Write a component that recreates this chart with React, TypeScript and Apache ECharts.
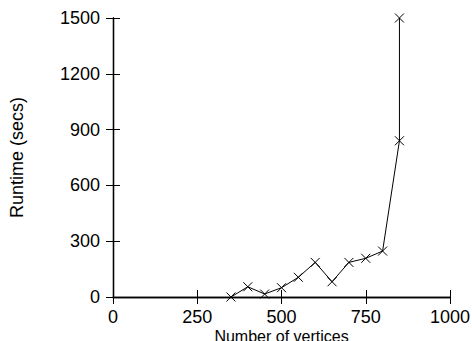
import React, { useEffect, useRef } from "react";
import * as echarts from "echarts";

const vertices = [350, 400, 450, 500, 550, 600, 650, 700, 750, 800, 850, 850];
const runtimes = [0, 55, 16, 50, 106, 186, 82, 186, 208, 247, 840, 1500];
const xTicks = [0, 250, 500, 750, 1000];
const yTicks = [0, 300, 600, 900, 1200, 1500];

const FONT = "Liberation Sans, Arial, Helvetica, sans-serif";

export default function App() {
  const ref = useRef<HTMLDivElement>(null);
  useEffect(() => {
    if (!ref.current) return;
    const chart = echarts.init(ref.current, undefined, { renderer: "svg" });
    const lineStyle = { color: "#000", width: 1.3 };
    const tick = { show: true, inside: true, length: 7, lineStyle: { color: "#000", width: 1 } };
    const xMax = xTicks[xTicks.length - 1];
    const yMax = yTicks[yTicks.length - 1];
    const fmt = (v: number) => String(v);
    chart.setOption({
      animation: false,
      grid: {
        left: 113,
        right: 22,
        top: 18,
        bottom: 44,
        containLabel: false,
        outerBoundsMode: "none",
      },
      xAxis: [
        {
          type: "value",
          min: xTicks[0],
          max: xMax,
          interval: xTicks[1] - xTicks[0],
          position: "bottom",
          name: "Number of vertices",
          nameLocation: "middle",
          nameGap: 31,
          nameMoveOverlap: false,
          nameTextStyle: { color: "#000", fontSize: 16, fontFamily: FONT, verticalAlign: "top" },
          axisLine: { show: true, lineStyle },
          axisTick: tick,
          axisLabel: { color: "#000", fontSize: 18, fontFamily: FONT, margin: 11, formatter: fmt },
          splitLine: { show: false },
        },
        {
          type: "value",
          min: xTicks[0],
          max: xMax,
          interval: xTicks[1] - xTicks[0],
          position: "top",
          axisLine: { show: true, lineStyle },
          axisTick: tick,
          axisLabel: { show: false },
          splitLine: { show: false },
        },
      ],
      yAxis: [
        {
          type: "value",
          min: yTicks[0],
          max: yMax,
          interval: yTicks[1] - yTicks[0],
          position: "left",
          name: "Runtime (secs)",
          nameLocation: "middle",
          nameGap: 87,
          nameMoveOverlap: false,
          nameTextStyle: { color: "#000", fontSize: 18, fontFamily: FONT },
          axisLine: { show: true, lineStyle },
          axisTick: tick,
          axisLabel: { color: "#000", fontSize: 18, fontFamily: FONT, margin: 13, formatter: fmt },
          splitLine: { show: false },
        },
        {
          type: "value",
          min: yTicks[0],
          max: yMax,
          interval: yTicks[1] - yTicks[0],
          position: "right",
          axisLine: { show: true, lineStyle },
          axisTick: tick,
          axisLabel: { show: false },
          splitLine: { show: false },
        },
      ],
      series: [
        {
          type: "line",
          xAxisIndex: 0,
          yAxisIndex: 0,
          data: vertices.map((v, i) => [v, runtimes[i]]),
          lineStyle: { color: "#000", width: 1 },
          symbol: "path://M0,0L10,10M10,0L0,10",
          symbolSize: 9,
          showAllSymbol: true,
          itemStyle: { color: "#000", borderColor: "#000", borderWidth: 1 },
          clip: false,
        },
      ],
    });
    return () => chart.dispose();
  }, []);
  return <div ref={ref} style={{ width: 472, height: 341, position: "absolute", left: 0, top: 0 }} />;
}
